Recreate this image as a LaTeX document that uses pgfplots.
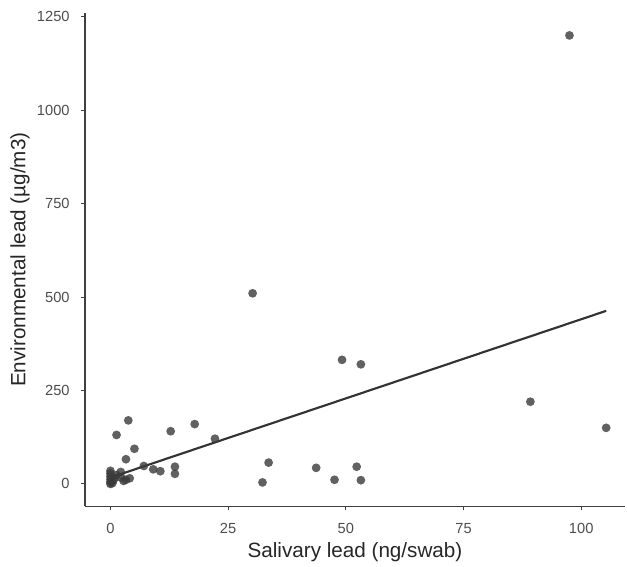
\documentclass[border=0pt]{standalone}
\usepackage{fontspec}
\setmainfont{Liberation Sans}
\usepackage{pgfplots}
\pgfplotsset{compat=1.18}
\definecolor{pt}{HTML}{3A3A3A}
\definecolor{fit}{HTML}{333333}
\definecolor{ticktxt}{HTML}{4D4D4D}
\definecolor{titletxt}{HTML}{262626}

\begin{document}
\begin{tikzpicture}
\begin{axis}[
    scale only axis,
    width=405pt, height=370pt,
    xmin=-5.4, xmax=109.3, ymin=-60, ymax=1260,
    axis x line*=bottom, axis y line*=left,
    axis line style={draw=black!75, line width=0.8pt},
    xtick={0,25,50,75,100},
    ytick={0,250,500,750,1000,1250},
    tick align=outside, major tick length=3pt,
    tick style={draw=black!75, line width=0.8pt},
    /pgf/number format/assume math mode=true,
    /pgf/number format/1000 sep={},
    ticklabel style={font=\fontsize{11}{13}\selectfont, text=ticktxt},
    xticklabel style={yshift=-6pt},
    yticklabel style={xshift=-5pt},
    xlabel={Salivary lead (ng/swab)},
    ylabel={Environmental lead (µg/m3)},
    label style={font=\fontsize{15.5}{18}\selectfont, text=titletxt},
    xlabel style={at={(axis description cs:0.5,-0.1034)}, anchor=base},
    ylabel style={at={(axis description cs:-0.1204,0.5)}, anchor=center},
    clip=false,
]
\addplot[only marks, mark=*, mark size=3.3pt, color=pt,
         mark options={fill=pt, draw opacity=0, fill opacity=0.8}] coordinates {
  (97.5,1200) (30.2,510) (49.2,332) (53.2,320) (89.2,220) (105.3,150)
  (33.6,57) (32.3,4) (43.7,43) (47.6,11) (52.3,46) (53.2,10)
  (3.8,170) (1.3,131) (12.8,141) (17.9,160) (22.2,121) (5.1,94)
  (3.3,66) (7.1,48) (9.1,39) (10.6,34) (13.7,46) (13.7,27)
  (0,35) (0,28) (0,20) (0,12) (0,5) (0,0) (0.4,2) (0.6,9) (0.9,16)
  (1.3,24) (2.2,32) (2.3,17) (3.3,11) (4.1,15) (2.8,8)
};
\addplot[color=fit, line width=1.6pt] coordinates {(0,17) (105.3,463)};
\end{axis}
\pgfresetboundingbox
\path[use as bounding box] (-63.75pt,-45pt) rectangle (406.5pt,379.75pt);
\end{tikzpicture}
\end{document}
